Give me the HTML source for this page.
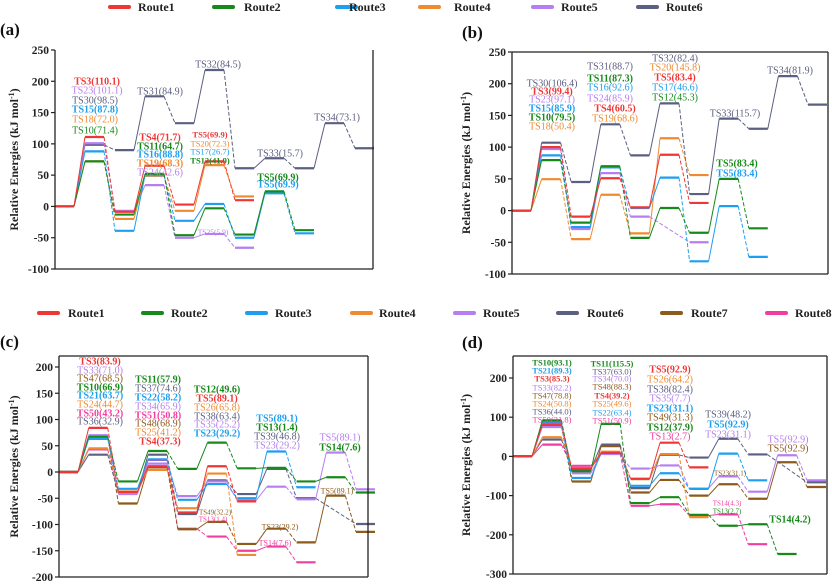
<!DOCTYPE html>
<html><head><meta charset="utf-8"><style>
body{margin:0;background:#fff;}
svg{display:block;font-family:"Liberation Serif",serif;}
</style></head><body>
<svg id="chart" width="832" height="586" viewBox="0 0 832 586"></svg>
<script>
// ---------- data ----------
const routeNames = ["Route1","Route2","Route3","Route4","Route5","Route6","Route7","Route8"];
const routeColors = ["#f03535","#17891a","#1c9ff0","#f08a30","#b57ef2","#5b5f80","#8d5a1c","#f23da0"];
// panel a (null = no level at that stage)
const a_r1 = [0,111,-8.5,65,3,72,10];
const a_r2 = [0,72,-13,52,-46,-3,-45,24,-38];
const a_r3 = [0,88,-39,50,-23,4,-50,21,-43];
const a_r4 = [0,72,-20,49,-7,66,16];
const a_r5 = [0,101,-7,34,-50,-44,-66];
const a_r6 = [0,98.5,90,176,133,218,61,77,61,133,93];
// panel b
const b_r1 = [0,100,-9.5,51,5,88,12];
const b_r2 = [0,79.5,-19,70,-43,4,-35,50,-28];
const b_r3 = [0,87,-26,68,4,52,-80,7,-73];
const b_r4 = [0,49.5,-45,25,-36,114,56];
const b_r5 = [0,97,-29,59,-9.5,null,-50];
const b_r6 = [0,107,45,136,87,169,26,145,129,212,167];
// panel c
const c_r1 = [0,84,-38,11,-77,11,-56];
const c_r2 = [0,67,-18,40,6,56,7,8,-18,-10,-39];
const c_r3 = [0,63,-32,24,-53,-23,-50,39,-29];
const c_r4 = [0,45,-37,4,-69,-3,-158];
const c_r5 = [0,70,-42,16,-46,-18,-54,-28,-52,37,-33];
const c_r6 = [0,33,-41,33,-80,-16,-42,6,-50,null,-99];
const c_r7 = [0,69,-60,9,-109,-95,-137,-108,-134,-45,-114];
const c_r8 = [0,43,-40,23,-108,-123,-150,-142,-172];
// panel d
const d_r1 = [0,82,-31,9,-57,35,-28];
const d_r2 = [0,92,-38,83,-119,-104,-149,-177,-173,-249];
const d_r3 = [0,88,-55,9,-75,-43,-83,7,-61];
const d_r4 = [0,49,-30,12,-58,6,-155];
const d_r5 = [0,75,-43,6,-31,-23,-82,-51,-90,3,-61];
const d_r6 = [0,43,-34,30,-81,4,-3,45,5,null,-66];
const d_r7 = [0,78,-64,26,-92,-60,-100,-71,-108,-15,-78];
const d_r8 = [0,30,-24,7,-126,-122,-151,-148,-224];
const ticksA = [250,200,150,100,50,0,-50,-100];
const ticksC = [200,150,100,50,0,-50,-100,-150,-200];
const ticksD = [200,100,0,-100,-200,-300];

const NS="http://www.w3.org/2000/svg";
const svg=document.getElementById('chart');
function mk(tag,attrs,parent){const e=document.createElementNS(NS,tag);for(const k in attrs)e.setAttribute(k,attrs[k]);(parent||svg).appendChild(e);return e;}

const panels=[
 {id:'a',letter:'(a)',lx:0,ly:35,bx0:55,bx1:373,by0:50,by1:269,vmax:250,vmin:-100,x0:55,p:30,w:19,ticks:ticksA,top:false,
  routes:[a_r6,a_r5,a_r4,a_r3,a_r2,a_r1],ri:[5,4,3,2,1,0],tx:18},
 {id:'b',letter:'(b)',lx:462,ly:38,bx0:512,bx1:828,by0:52,by1:274,vmax:250,vmin:-100,x0:512,p:29.6,w:19,ticks:ticksA,top:true,
  routes:[b_r6,b_r5,b_r4,b_r3,b_r2,b_r1],ri:[5,4,3,2,1,0],tx:470},
 {id:'c',letter:'(c)',lx:0,ly:347,bx0:59,bx1:368,by0:356,by1:577,vmax:200,vmin:-200,x0:59,p:29.7,w:19,ticks:ticksC,top:true,
  routes:[c_r8,c_r7,c_r6,c_r5,c_r4,c_r3,c_r2,c_r1],ri:[7,6,5,4,3,2,1,0],tx:18},
 {id:'d',letter:'(d)',lx:462,ly:348,bx0:513,bx1:827,by0:356,by1:574,vmax:200,vmin:-300,x0:513,p:29.4,w:19,ticks:ticksD,top:true,
  routes:[d_r8,d_r7,d_r6,d_r5,d_r4,d_r3,d_r2,d_r1],ri:[7,6,5,4,3,2,1,0],tx:470}
];
// tick-pixel anchors per panel
const anchors={a:[250,50,-100,269],b:[250,52,-100,274],c:[200,367,-200,577],d:[200,378,-300,574]};

panels.forEach(P=>{
  const g=mk('g',{});
  
  
  const an=anchors[P.id];
  const yS=v=>an[1]+(an[0]-v)*(an[3]-an[1])/(an[0]-an[2]);
  const xS=k=>P.x0+P.p*k;
  // routes
  P.routes.forEach((arr,idx)=>{
    const col=routeColors[P.ri[idx]];
    const rg=mk('g',{},g);
    
    
    let prev=null;
    arr.forEach((v,k)=>{
      if(v===null)return;
      const x=xS(k), y=yS(v);
      const seg=mk('line',{x1:x,y1:y,x2:x+P.w,y2:y,stroke:col,'stroke-width':2.2},rg);
      
      
      if(prev){
        const py=yS(prev.v);
        const c=mk('line',{x1:prev.x+P.w,y1:py,x2:x,y2:y,stroke:col,'stroke-width':1},rg);
        if(v<prev.v)c.setAttribute('stroke-dasharray','4,2');
        
        
      }
      prev={x:x,v:v};
    });
  });
  // axes box
  const ax=mk('g',{stroke:'#222','stroke-width':1.3,fill:'none'},g);
  
  
  mk('line',{x1:P.bx0,y1:P.by0,x2:P.bx0,y2:P.by1},ax);
  mk('line',{x1:P.bx0,y1:P.by1,x2:P.bx1,y2:P.by1},ax);
  mk('line',{x1:P.bx1,y1:P.by0,x2:P.bx1,y2:P.by1},ax);
  if(P.top)mk('line',{x1:P.bx0,y1:P.by0,x2:P.bx1,y2:P.by0},ax);
  P.ticks.forEach(t=>{
    const y=yS(t);
    mk('line',{x1:P.bx0-4,y1:y,x2:P.bx0,y2:y,stroke:'#222','stroke-width':1.2},g);
    const tl=mk('text',{x:P.bx0-6,y:y+4,'text-anchor':'end','font-size':11.5,'font-weight':'bold',fill:'#222'},g);
    tl.textContent=t;
    
    
  });
  const cy=(P.by0+P.by1)/2;
  const yt=mk('text',{x:P.tx,y:cy,'text-anchor':'middle','font-size':12,'font-weight':'bold',fill:'#222',transform:'rotate(-90 '+P.tx+' '+cy+')'},g);
  yt.innerHTML='Relative Energies (kJ mol<tspan font-size="8" dy="-4">-1</tspan><tspan dy="4">)</tspan>';
  
  
  const lt=mk('text',{x:P.lx,y:P.ly,'font-size':17,'font-weight':'bold',fill:'#111'},g);
  lt.textContent=P.letter;
  
  
});

// legends
const legendTop=[[110,137,0],[214,243,1],[337,348,2],[420,453,3],[533,560,4],[638,665,5]];
const legendBot=[[39,67,0],[143,170,1],[247,274,2],[352,378,3],[455,482,4],[558,586,5],[662,690,6],[767,794,7]];
function legend(list,y){
  list.forEach(e=>{
    const g=mk('g',{});
    
    
    mk('line',{x1:e[0],y1:y,x2:e[0]+19,y2:y,stroke:routeColors[e[2]],'stroke-width':4,'stroke-linecap':'round'},g);
    const t=mk('text',{x:e[1]+1,y:y+4,'font-size':12,'font-weight':'bold',fill:'#222'},g);
    t.textContent=routeNames[e[2]];
  });
}
legend(legendTop,7);
legend(legendBot,313);

// labels [text,x,y,routeIndex,bold,size]
const labels=[
 ["TS3(110.1)",97,81,0,1],["TS23(101.1)",97,90,4,0],["TS30(98.5)",95,100,5,0],["TS15(87.8)",95,109,2,1],["TS18(72.0)",95,119,3,0],["TS10(71.4)",95,130,1,0],
 ["TS31(84.9)",160,91,5,0],["TS32(84.5)",218,64,5,0],
 ["TS4(71.7)",160,137,0,1],["TS11(64.7)",160,146,1,1],["TS16(88.8)",160,154,2,1],["TS19(68.3)",160,163,3,1],["TS24(42.6)",160,172,4,0],
 ["TS5(69.9)",210,134,0,1,8.5],["TS20(72.3)",210,143,3,0,8.5],["TS17(26.7)",210,151,2,0,8.5],["TS12(41.9)",210,160,1,1,8.5],
 ["TS25(5.9)",213,231,4,0,7.5],["TS33(15.7)",280,153,5,0],["TS5(69.9)",278,177,1,1],["TS5(69.9)",278,184,2,1],["TS34(73.1)",337,117,5,0],
 ["TS30(106.4)",552,83,5,0],["TS3(99.4)",552,91,0,1],["TS23(97.1)",552,99,4,0],["TS15(85.9)",552,108,2,1],["TS10(79.5)",552,117,1,1],["TS18(50.4)",552,126,3,0],
 ["TS31(88.7)",610,66,5,0],["TS11(87.3)",610,78,1,1],["TS16(92.6)",610,87,2,0],["TS24(85.9)",610,98,4,0],["TS4(60.5)",615,108,0,1],["TS19(68.6)",615,118,3,0],
 ["TS32(82.4)",675,58,5,0],["TS20(145.8)",675,67,3,0],["TS5(83.4)",675,77,0,1],["TS17(46.6)",675,87,2,0],["TS12(45.3)",675,97,1,0],
 ["TS33(115.7)",735,113,5,0],["TS5(83.4)",737,163,1,1],["TS5(83.4)",737,173,2,1],["TS34(81.9)",790,70,5,0],
 ["TS3(83.9)",100,361,0,1],["TS33(71.0)",100,370,4,0],["TS47(68.5)",100,378,6,0],["TS10(66.9)",100,387,1,1],["TS21(63.7)",100,395,2,1],["TS24(44.7)",100,404,3,0],["TS50(43.2)",100,413,7,1],["TS36(32.9)",100,421,5,0],
 ["TS11(57.9)",158,379,1,1],["TS37(74.6)",158,388,5,0],["TS22(58.2)",158,397,2,1],["TS34(65.9)",158,406,4,0],["TS51(50.8)",158,415,7,1],["TS48(68.9)",158,423,6,0],["TS25(41.2)",158,432,3,0],["TS4(37.3)",160,441,0,1],
 ["TS12(49.6)",217,389,1,1],["TS5(89.1)",217,398,0,1],["TS26(65.8)",217,407,3,0],["TS38(63.4)",217,416,5,0],["TS35(25.2)",217,424,4,0],["TS23(29.2)",217,433,2,1],
 ["TS49(32.2)",215,511,6,0,7],["TS13(1.4)",213,518,7,0,7],
 ["TS5(89.1)",277,418,2,1],["TS13(1.4)",277,427,1,1],["TS39(46.8)",277,436,5,0],["TS23(29.2)",277,445,4,0],
 ["TS23(29.2)",280,526,6,0,8],["TS14(7.6)",275,542,7,0,8],
 ["TS5(89.1)",340,437,4,0],["TS14(7.6)",340,447,1,1],["TS5(89.1)",337,490,6,0,8],
 ["TS10(93.1)",552,362,1,1,8.5],["TS21(89.3)",552,370,2,1,8.5],["TS3(85.3)",552,378,0,1,8.5],["TS33(82.2)",552,387,4,0,8.5],["TS47(78.8)",552,395,6,0,8.5],["TS24(50.8)",552,403,3,0,8.5],["TS36(44.0)",552,411,5,0,8.5],["TS50(31.8)",552,419,7,0,8.5],
 ["TS11(115.5)",612,363,1,1,8.5],["TS37(63.0)",612,371,5,0,8.5],["TS34(70.0)",612,378,4,0,8.5],["TS48(88.3)",612,386,6,0,8.5],["TS4(39.2)",612,395,0,1,8.5],["TS25(49.6)",612,403,3,0,8.5],["TS22(63.4)",612,412,2,0,8.5],["TS51(50.9)",612,420,7,0,8.5],
 ["TS5(92.9)",670,369,0,1],["TS26(64.2)",670,379,3,0],["TS38(82.4)",670,389,5,0],["TS35(7.7)",670,398,4,0],["TS23(31.1)",670,408,2,1],["TS49(31.3)",670,417,6,0],["TS12(37.9)",670,427,1,1],["TS13(2.7)",670,436,7,0],
 ["TS23(31.1)",730,472,6,0,7],["TS14(4.3)",727,502,7,0,7],["TS13(2.7)",727,510,1,0,7],
 ["TS39(48.2)",728,414,5,0],["TS5(92.9)",728,424,2,1],["TS23(31.1)",728,434,4,0],
 ["TS5(92.9)",788,439,4,0],["TS5(92.9)",788,448,6,0],["TS14(4.2)",790,519,1,1]
];
labels.forEach(L=>{
  const t=mk('text',{x:L[1],y:L[2]+3.5,'text-anchor':'middle','font-size':L[5]||10,'font-weight':L[4]?'bold':'normal',fill:routeColors[L[3]]});
  t.textContent=L[0];
  
  
});
</script>
</body></html>
